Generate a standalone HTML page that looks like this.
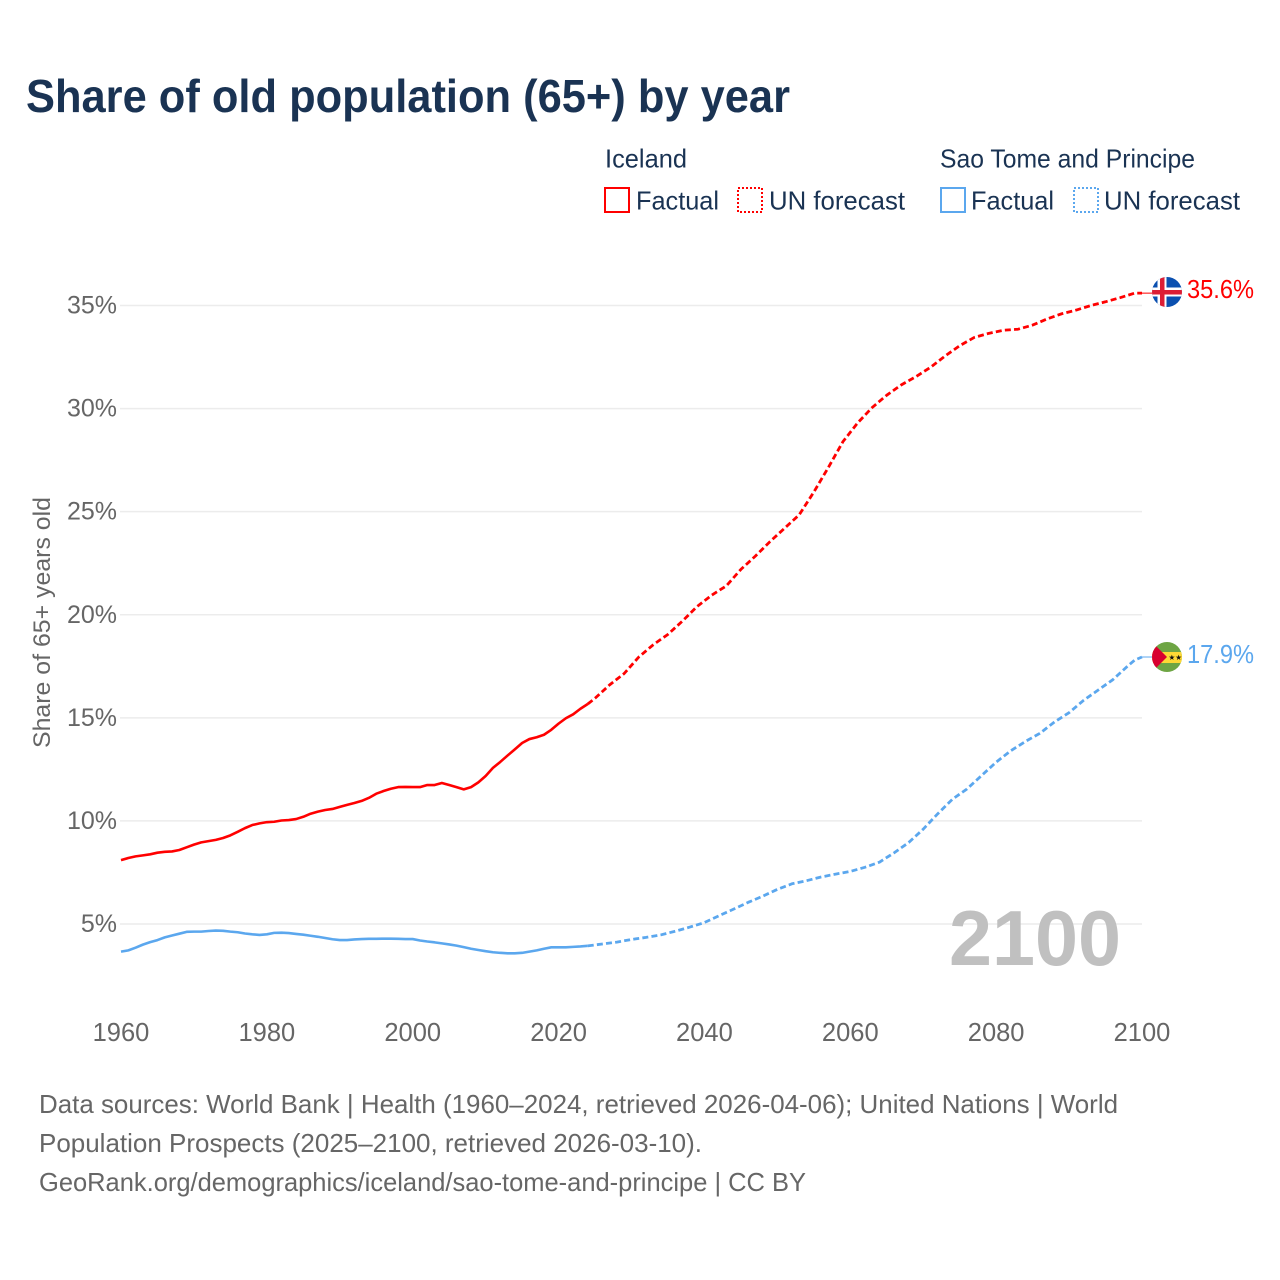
<!DOCTYPE html>
<html lang="en">
<head>
<meta charset="utf-8">
<title>Share of old population (65+) by year</title>
<style>
html,body{margin:0;padding:0;background:#fff;width:1280px;height:1280px;overflow:hidden}
svg{display:block}
text{font-family:"Liberation Sans",sans-serif}
</style>
</head>
<body>
<svg id="chart" width="1280" height="1280" viewBox="0 0 1280 1280" xmlns="http://www.w3.org/2000/svg">
  <rect x="0" y="0" width="1280" height="1280" fill="#fff"/>
  <text x="26" y="112" font-size="46" font-weight="700" fill="#1a3353" textLength="764" lengthAdjust="spacingAndGlyphs">Share of old population (65+) by year</text>

  <g font-size="26" fill="#1a3353">
    <text x="605" y="167.5" textLength="82" lengthAdjust="spacingAndGlyphs">Iceland</text>
    <rect x="605" y="188" width="24" height="24" fill="none" stroke="#ff0000" stroke-width="2"/>
    <text x="636" y="209.5" textLength="83" lengthAdjust="spacingAndGlyphs">Factual</text>
    <rect x="738" y="188" width="24" height="24" fill="none" stroke="#ff0000" stroke-width="2" stroke-dasharray="2 2"/>
    <text x="769" y="209.5" textLength="136" lengthAdjust="spacingAndGlyphs">UN forecast</text>
    <text x="940" y="167.5" textLength="255" lengthAdjust="spacingAndGlyphs">Sao Tome and Principe</text>
    <rect x="941" y="188" width="24" height="24" fill="none" stroke="#5ba7ee" stroke-width="2"/>
    <text x="971" y="209.5" textLength="83" lengthAdjust="spacingAndGlyphs">Factual</text>
    <rect x="1074" y="188" width="24" height="24" fill="none" stroke="#5ba7ee" stroke-width="2" stroke-dasharray="2 2"/>
    <text x="1104" y="209.5" textLength="136" lengthAdjust="spacingAndGlyphs">UN forecast</text>
  </g>

  <g id="grid"></g>
  <g id="yticks"></g>
  <g id="xticks"></g>
  <text transform="translate(50,748) rotate(-90)" font-size="24.5" fill="#666" textLength="251" lengthAdjust="spacingAndGlyphs">Share of 65+ years old</text>

  <text x="949" y="965" font-size="78" font-weight="700" fill="#c0c0c0" textLength="172" lengthAdjust="spacingAndGlyphs">2100</text>

  <g id="series"></g>

  <g>
    <clipPath id="clip-is"><circle cx="1167" cy="292" r="15"/></clipPath>
    <g clip-path="url(#clip-is)">
      <rect x="1152" y="277" width="30" height="30" fill="#0b50b0"/>
      <rect x="1152" y="287.5" width="30" height="9" fill="#fff"/>
      <rect x="1157.5" y="277" width="9" height="30" fill="#fff"/>
      <rect x="1152" y="290" width="30" height="4.5" fill="#dc1e35"/>
      <rect x="1160" y="277" width="4.5" height="30" fill="#dc1e35"/>
    </g>
  </g>
  <g>
    <clipPath id="clip-st"><circle cx="1167" cy="657" r="15"/></clipPath>
    <g clip-path="url(#clip-st)">
      <rect x="1152" y="642" width="30" height="30" fill="#6ea544"/>
      <rect x="1152" y="652" width="30" height="11" fill="#fdd835"/>
      <polygon points="1152,642 1167,657 1152,672" fill="#d8002f"/>
      <text x="1168.5" y="660" font-size="7.5" fill="#111" style="font-family:'DejaVu Sans',sans-serif">★★</text>
    </g>
  </g>
  <text id="label-is" x="1187" y="298" font-size="25.5" fill="#ff0000" textLength="67" lengthAdjust="spacingAndGlyphs"></text>
  <text id="label-st" x="1187" y="663" font-size="25.5" fill="#5ba7ee" textLength="67" lengthAdjust="spacingAndGlyphs"></text>

  <g font-size="26" fill="#666">
    <text x="39" y="1113" textLength="1079" lengthAdjust="spacingAndGlyphs">Data sources: World Bank | Health (1960–2024, retrieved 2026-04-06); United Nations | World</text>
    <text x="39" y="1152" textLength="663" lengthAdjust="spacingAndGlyphs">Population Prospects (2025–2100, retrieved 2026-03-10).</text>
    <text x="39" y="1191" textLength="767" lengthAdjust="spacingAndGlyphs">GeoRank.org/demographics/iceland/sao-tome-and-principe | CC BY</text>
  </g>
</svg>
<script>
const xTickYears = [1960, 1980, 2000, 2020, 2040, 2060, 2080, 2100];
const yTickValues = [5, 10, 15, 20, 25, 30, 35];
const yTickLabels = ["5%", "10%", "15%", "20%", "25%", "30%", "35%"];

const factualYears = [1960,1961,1962,1963,1964,1965,1966,1967,1968,1969,1970,1971,1972,1973,1974,1975,1976,1977,1978,1979,1980,1981,1982,1983,1984,1985,1986,1987,1988,1989,1990,1991,1992,1993,1994,1995,1996,1997,1998,1999,2000,2001,2002,2003,2004,2005,2006,2007,2008,2009,2010,2011,2012,2013,2014,2015,2016,2017,2018,2019,2020,2021,2022,2023,2024];
const icelandFactual = [8.1,8.2,8.28,8.33,8.38,8.46,8.5,8.52,8.59,8.72,8.85,8.96,9.02,9.08,9.17,9.3,9.47,9.65,9.8,9.88,9.94,9.96,10.02,10.04,10.09,10.2,10.35,10.45,10.53,10.58,10.68,10.78,10.87,10.97,11.12,11.32,11.45,11.56,11.64,11.65,11.64,11.64,11.74,11.74,11.84,11.74,11.64,11.53,11.64,11.87,12.18,12.57,12.86,13.17,13.47,13.78,13.97,14.06,14.18,14.42,14.72,14.98,15.17,15.44,15.67];
const saoTomeFactual = [3.66,3.72,3.85,4.0,4.12,4.22,4.35,4.44,4.53,4.62,4.63,4.63,4.66,4.68,4.67,4.63,4.6,4.54,4.5,4.47,4.5,4.57,4.58,4.56,4.52,4.48,4.43,4.38,4.32,4.26,4.22,4.22,4.25,4.27,4.28,4.28,4.29,4.29,4.28,4.27,4.27,4.2,4.15,4.11,4.06,4.01,3.95,3.88,3.8,3.74,3.68,3.63,3.6,3.58,3.58,3.6,3.66,3.72,3.8,3.87,3.87,3.87,3.89,3.91,3.94];

const icelandForecastYears = [2024,2025,2027,2029,2031,2033,2035,2037,2039,2041,2043,2045,2047,2049,2051,2053,2055,2057,2059,2061,2063,2065,2067,2069,2071,2073,2075,2077,2079,2081,2083,2085,2087,2089,2091,2093,2095,2097,2099,2100];
const icelandForecast = [15.67,15.95,16.6,17.15,17.95,18.55,19.05,19.7,20.4,20.95,21.4,22.2,22.85,23.55,24.2,24.85,25.95,27.15,28.4,29.3,30.05,30.65,31.15,31.55,32.0,32.55,33.05,33.45,33.65,33.8,33.85,34.05,34.35,34.6,34.78,35.0,35.18,35.38,35.6,35.6];

const saoTomeForecastYears = [2024,2026,2028,2030,2032,2034,2036,2038,2040,2042,2044,2046,2048,2050,2052,2054,2056,2058,2060,2062,2064,2066,2068,2070,2072,2074,2076,2078,2080,2082,2084,2086,2088,2090,2092,2094,2096,2098,2099,2100];
const saoTomeForecast = [3.94,4.03,4.12,4.25,4.35,4.47,4.65,4.85,5.07,5.4,5.72,6.05,6.35,6.68,6.95,7.1,7.28,7.42,7.55,7.75,8.0,8.45,8.95,9.6,10.35,11.05,11.55,12.2,12.85,13.4,13.85,14.25,14.8,15.25,15.85,16.35,16.85,17.5,17.8,17.95];

const icelandLatestLabel = "35.6%";
const saoTomeLatestLabel = "17.9%";

const NS = "http://www.w3.org/2000/svg";
function xScale(year) { return 121 + (year - 1960) * (1142 - 121) / 140; }
function yScale(v) { return 924 - (v - 5) * (924 - 305.5) / 30; }
function make(tag, attrs, parent) {
  const el = document.createElementNS(NS, tag);
  for (const k in attrs) el.setAttribute(k, attrs[k]);
  parent.appendChild(el);
  return el;
}
function pathFrom(years, values) {
  return years.map(function (y, i) {
    return (i ? "L" : "M") + xScale(y).toFixed(2) + " " + yScale(values[i]).toFixed(2);
  }).join("");
}

const gridG = document.getElementById("grid");
const yG = document.getElementById("yticks");
yTickValues.forEach(function (v, i) {
  const line = make("line", {x1: 120, x2: 1142, y1: yScale(v), y2: yScale(v), stroke: "#ececec", "stroke-width": 1.5}, gridG);
  
  
  const t = make("text", {x: 117, y: yScale(v) + 8, "text-anchor": "end", "font-size": 25, fill: "#666"}, yG);
  
  
  t.textContent = yTickLabels[i];
});

const xG = document.getElementById("xticks");
xTickYears.forEach(function (yr) {
  const t = make("text", {x: xScale(yr), y: 1041, "text-anchor": "middle", "font-size": 25.5, fill: "#666"}, xG);
  
  
  t.textContent = yr;
});

const sG = document.getElementById("series");
const RED = "#ff0000", BLUE = "#5ba7ee";

const p1 = make("path", {d: pathFrom(factualYears, icelandFactual), fill: "none", stroke: RED, "stroke-width": 2.6, "stroke-linejoin": "round"}, sG);



const p2 = make("path", {d: pathFrom(icelandForecastYears, icelandForecast), fill: "none", stroke: RED, "stroke-width": 2.8, "stroke-dasharray": "6 3.2", "stroke-linejoin": "round"}, sG);



const p3 = make("path", {d: pathFrom(factualYears, saoTomeFactual), fill: "none", stroke: BLUE, "stroke-width": 2.6, "stroke-linejoin": "round"}, sG);



const p4 = make("path", {d: pathFrom(saoTomeForecastYears, saoTomeForecast), fill: "none", stroke: BLUE, "stroke-width": 2.8, "stroke-dasharray": "6 3.2", "stroke-linejoin": "round"}, sG);



const lastIs = yScale(icelandForecast[icelandForecast.length - 1]);
const c1 = make("line", {x1: 1142, x2: 1152, y1: lastIs, y2: lastIs, stroke: RED, "stroke-width": 1}, sG);



const lastSt = yScale(saoTomeForecast[saoTomeForecast.length - 1]);
const c2 = make("line", {x1: 1142, x2: 1152, y1: lastSt, y2: lastSt, stroke: BLUE, "stroke-width": 1}, sG);



document.getElementById("label-is").textContent = icelandLatestLabel;
document.getElementById("label-st").textContent = saoTomeLatestLabel;
</script>
</body>
</html>
